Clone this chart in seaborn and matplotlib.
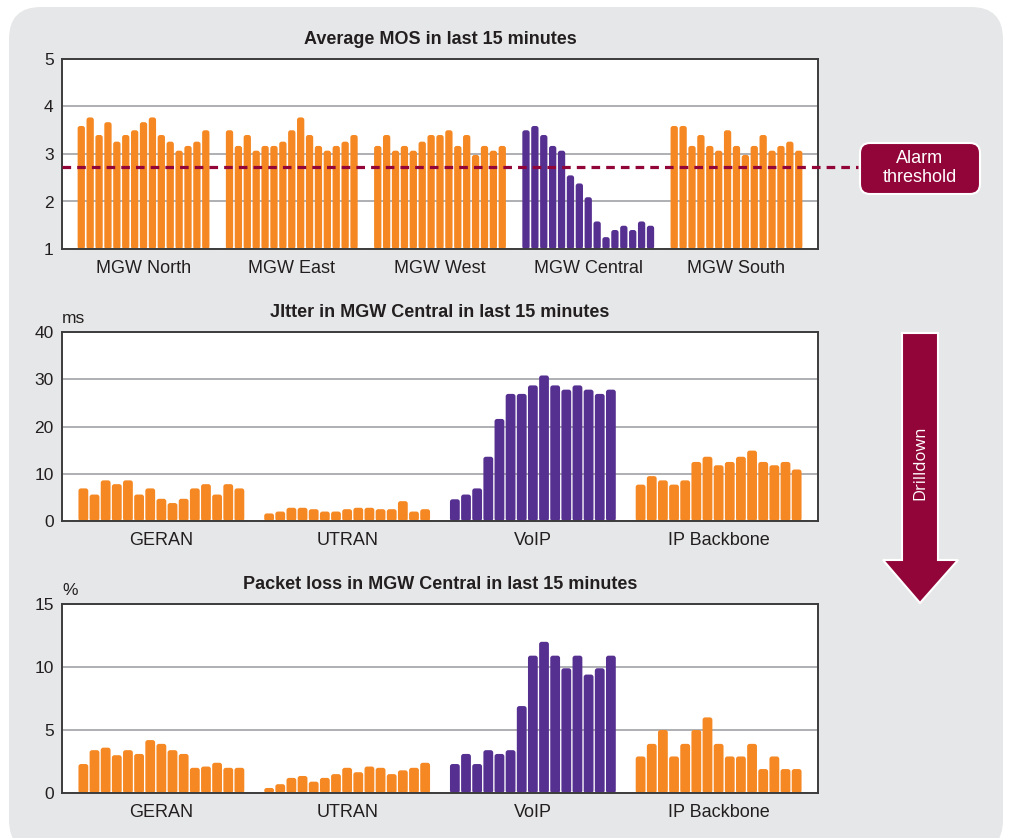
import numpy as np
import pandas as pd
import seaborn as sns
import matplotlib
matplotlib.use("Agg")
import matplotlib.pyplot as plt
from matplotlib.patches import Rectangle, FancyBboxPatch, Polygon, BoxStyle

# ---- data -----------------------------------------------------------------
minutes = [f"m{i:02d}" for i in range(1, 16)]

mos_groups = ["MGW North", "MGW East", "MGW West", "MGW Central", "MGW South"]
mos_north = [3.59, 3.77, 3.40, 3.67, 3.26, 3.40, 3.50, 3.67, 3.77, 3.40, 3.26, 3.07, 3.17, 3.26, 3.50]
mos_east = [3.50, 3.17, 3.40, 3.07, 3.17, 3.17, 3.26, 3.50, 3.77, 3.40, 3.17, 3.07, 3.17, 3.26, 3.40]
mos_west = [3.17, 3.40, 3.07, 3.17, 3.07, 3.26, 3.40, 3.40, 3.50, 3.17, 3.40, 2.98, 3.17, 3.07, 3.17]
mos_central = [3.50, 3.59, 3.40, 3.17, 3.07, 2.55, 2.38, 2.09, 1.58, 1.25, 1.40, 1.49, 1.40, 1.58, 1.49]
mos_south = [3.59, 3.59, 3.17, 3.40, 3.17, 3.07, 3.50, 3.17, 2.98, 3.17, 3.40, 3.07, 3.17, 3.26, 3.07]
alarm_threshold = 2.72

net_groups = ["GERAN", "UTRAN", "VoIP", "IP Backbone"]
jitter_geran = [6.9, 5.6, 8.6, 7.8, 8.6, 5.6, 6.9, 4.7, 3.8, 4.7, 6.9, 7.8, 5.6, 7.8, 6.9]
jitter_utran = [1.6, 2.0, 2.8, 2.8, 2.5, 2.0, 2.0, 2.5, 2.8, 2.8, 2.5, 2.5, 4.2, 2.0, 2.5]
jitter_voip = [4.6, 5.6, 6.9, 13.6, 21.6, 26.9, 26.9, 28.7, 30.8, 28.7, 27.8, 28.7, 27.8, 26.9, 27.8]
jitter_ipbb = [7.7, 9.5, 8.6, 7.7, 8.6, 12.5, 13.6, 11.8, 12.5, 13.6, 14.9, 12.5, 11.8, 12.5, 10.9]

loss_geran = [2.3, 3.4, 3.6, 3.0, 3.4, 3.1, 4.2, 3.9, 3.4, 3.1, 2.0, 2.1, 2.4, 2.0, 2.0]
loss_utran = [0.4, 0.7, 1.2, 1.35, 0.9, 1.2, 1.5, 2.0, 1.65, 2.1, 2.0, 1.5, 1.8, 2.0, 2.4]
loss_voip = [2.3, 3.1, 2.3, 3.4, 3.1, 3.4, 6.9, 10.9, 12.0, 10.9, 9.9, 10.9, 9.4, 9.9, 10.9]
loss_ipbb = [2.9, 3.9, 5.0, 2.9, 3.9, 5.0, 6.0, 3.9, 2.9, 2.9, 3.9, 1.9, 2.9, 1.9, 1.9]

mos_ticks = [1, 2, 3, 4, 5]
jitter_ticks = [0, 10, 20, 30, 40]
loss_ticks = [0, 5, 10, 15]

# ---- style ------------------------------------------------------------------
ORANGE = "#F58823"
PURPLE = "#563091"
MAROON = "#920538"
PANEL = "#E6E7E8"
INK = "#231F20"
GRID = "#A7A9AC"
FRAME = "#3C3C3C"

sns.set_theme(style="white")
plt.rcParams["font.family"] = ["Liberation Sans", "DejaVu Sans"]
plt.rcParams["text.color"] = INK

W, H = 1009, 838
fig = plt.figure(figsize=(W / 100, H / 100), dpi=100)
fig.patch.set_facecolor("white")

# rounded grey card behind everything
bg = fig.add_axes([0, 0, 1, 1], zorder=-5)
bg.set_xlim(0, W)
bg.set_ylim(H, 0)
bg.axis("off")
bg.add_patch(FancyBboxPatch((9, 7), 994, 845,
                            boxstyle=BoxStyle("Round", pad=0, rounding_size=32),
                            facecolor=PANEL, edgecolor="none", clip_on=False))


def px_axes(left, top, right, bottom):
    return fig.add_axes([left / W, 1 - bottom / H, (right - left) / W, (bottom - top) / H])


def long_frame(groups, series):
    rows = []
    for g, vals in zip(groups, series):
        for m, v in zip(minutes, vals):
            rows.append({"group": g, "minute": m, "value": v})
    return pd.DataFrame(rows)


def round_bars(ax, radius_px):
    pos = ax.get_position()
    w_px = pos.width * W
    h_px = pos.height * H
    x0, x1 = ax.get_xlim()
    y0, y1 = ax.get_ylim()
    dx = (x1 - x0) / w_px
    dy = (y1 - y0) / h_px
    for bar in [p for p in ax.patches if isinstance(p, Rectangle)]:
        bx, by, bw, bh = bar.get_x(), bar.get_y(), bar.get_width(), bar.get_height()
        top = by + bh
        base = max(by, y0)
        r = min(radius_px, bw / dx / 2, (top - base) / dy / 2)
        rounded = FancyBboxPatch((bx, base), bw, top - base,
                                 boxstyle=BoxStyle("Round", pad=0, rounding_size=r * dx),
                                 mutation_aspect=dy / dx,
                                 facecolor=bar.get_facecolor(), edgecolor="none",
                                 linewidth=0, zorder=bar.get_zorder())
        bar.remove()
        ax.add_patch(rounded)


def bar_panel(ax, groups, series, highlight, ticks, xlim, title, gap, unit=None):
    df = long_frame(groups, series)
    base = df[df["group"] != highlight]
    hot = df[df["group"] == highlight]
    common = dict(x="group", y="value", hue="minute", order=groups, hue_order=minutes,
                  dodge=True, width=0.9, gap=gap, legend=False, errorbar=None,
                  saturation=1, ax=ax)
    sns.barplot(data=base, palette=[ORANGE] * len(minutes), **common)
    sns.barplot(data=hot, palette=[PURPLE] * len(minutes), **common)

    ax.set_facecolor("white")
    ax.set_xlim(*xlim)
    ax.set_ylim(ticks[0], ticks[-1])
    ax.set_yticks(ticks)
    ax.set_xlabel("")
    ax.set_ylabel("")
    ax.set_axisbelow(True)
    ax.yaxis.grid(True, color=GRID, linewidth=1.3)
    ax.xaxis.grid(False)
    for s in ax.spines.values():
        s.set_visible(True)
        s.set_color(FRAME)
        s.set_linewidth(1.4)
    ax.tick_params(axis="y", length=0, pad=6, labelsize=12.5, labelcolor=INK)
    ax.tick_params(axis="x", length=0, pad=8, labelsize=13, labelcolor=INK)
    ax.set_title(title, fontsize=13, fontweight="bold", color=INK, pad=11)
    if unit:
        ax.annotate(unit, xy=(0, 1), xycoords="axes fraction", xytext=(0, 6.5),
                    textcoords="offset points", ha="left", va="baseline",
                    fontsize=12.5, color=INK)
    round_bars(ax, 2.5)


ax_mos = px_axes(62, 59, 818, 249)
bar_panel(ax_mos, mos_groups, [mos_north, mos_east, mos_west, mos_central, mos_south],
          "MGW Central", mos_ticks, (-0.55, 4.55), "Average MOS in last 15 minutes", 0.18)
ax_mos.plot([0, (858 - 62) / 756], [alarm_threshold, alarm_threshold],
            transform=ax_mos.get_yaxis_transform(), clip_on=False,
            color=MAROON, linewidth=2.3, linestyle=(0, (2.7, 1.9)), zorder=4)

ax_jit = px_axes(62, 332, 818, 521)
bar_panel(ax_jit, net_groups, [jitter_geran, jitter_utran, jitter_voip, jitter_ipbb],
          "VoIP", jitter_ticks, (-0.535, 3.535), "JItter in MGW Central in last 15 minutes",
          0.12, unit="ms")

ax_loss = px_axes(62, 604, 818, 793)
bar_panel(ax_loss, net_groups, [loss_geran, loss_utran, loss_voip, loss_ipbb],
          "VoIP", loss_ticks, (-0.535, 3.535), "Packet loss in MGW Central in last 15 minutes",
          0.12, unit="%")

# ---- callouts -----------------------------------------------------------------
ov = fig.add_axes([0, 0, 1, 1], zorder=10)
ov.set_xlim(0, W)
ov.set_ylim(H, 0)
ov.axis("off")
ov.patch.set_alpha(0)

ov.add_patch(FancyBboxPatch((860, 143), 120, 51,
                            boxstyle=BoxStyle("Round", pad=0, rounding_size=10),
                            facecolor=MAROON, edgecolor="white", linewidth=1.5))
ov.text(920, 168, "Alarm\nthreshold", ha="center", va="center", color="white",
        fontsize=13, linespacing=1.15)

arrow = [(902, 333), (938, 333), (938, 560), (958, 560), (920, 603),
         (883, 560), (902, 560)]
ov.add_patch(Polygon(arrow, closed=True, facecolor=MAROON, edgecolor="white",
                     linewidth=1.5))
ov.text(920, 463, "Drilldown", rotation=90, ha="center", va="center", color="white",
        fontsize=12, family=["Open Sans", "DejaVu Sans"])

fig.savefig("out.png", dpi=100, facecolor="white")
